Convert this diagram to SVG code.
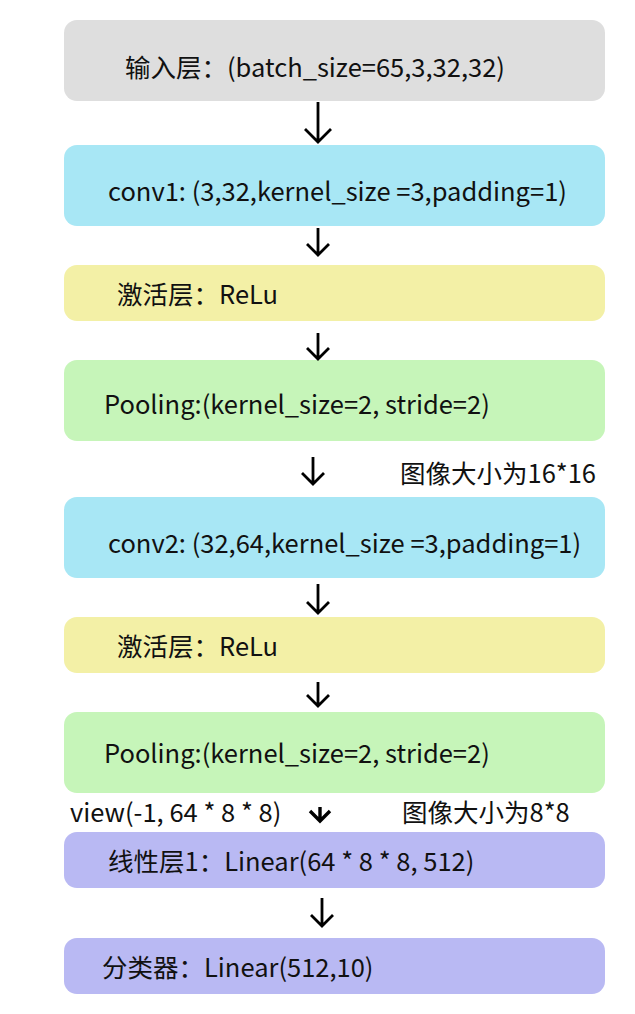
<svg xmlns="http://www.w3.org/2000/svg" width="635" height="1014" viewBox="0 0 635 1014">
<style>
.bx{stroke:none}
.t{font-family:"Noto Sans CJK SC","Noto Sans",sans-serif;font-size:25.5px;fill:#111}
.a{fill:none;stroke:#000;stroke-width:2.8;stroke-linecap:butt}
</style>
<rect width="635" height="1014" fill="#fff"/>
<g id="n1"><rect class="bx" x="64" y="20" width="541" height="81" rx="13" fill="#dedede"/><text class="t" x="125" y="77">输入层：(batch_size=65,3,32,32)</text></g>
<g id="n2"><rect class="bx" x="64" y="145" width="541" height="81" rx="13" fill="#a8e7f5"/><text class="t" x="108" y="201">conv1: (3,32,kernel_size =3,padding=1)</text></g>
<g id="n3"><rect class="bx" x="64" y="265" width="541" height="56" rx="13" fill="#f3f0a6"/><text class="t" x="117" y="304">激活层：ReLu</text></g>
<g id="n4"><rect class="bx" x="64" y="360" width="541" height="81" rx="13" fill="#c6f5b9"/><text class="t" x="104" y="414">Pooling:(kernel_size=2, stride=2)</text></g>
<g id="l1"><text class="t" x="400" y="483">图像大小为16*16</text></g>
<g id="n5"><rect class="bx" x="64" y="497" width="541" height="81" rx="13" fill="#a8e7f5"/><text class="t" x="108" y="553">conv2: (32,64,kernel_size =3,padding=1)</text></g>
<g id="n6"><rect class="bx" x="64" y="617" width="541" height="56" rx="13" fill="#f3f0a6"/><text class="t" x="117" y="656">激活层：ReLu</text></g>
<g id="n7"><rect class="bx" x="64" y="712" width="541" height="81" rx="13" fill="#c6f5b9"/><text class="t" x="104" y="763">Pooling:(kernel_size=2, stride=2)</text></g>
<g id="l2"><text class="t" x="70" y="822">view(-1, 64 * 8 * 8)</text><text class="t" x="402" y="822">图像大小为8*8</text></g>
<g id="n8"><rect class="bx" x="64" y="832" width="541" height="56" rx="13" fill="#b9b9f3"/><text class="t" x="108" y="871">线性层1：Linear(64 * 8 * 8, 512)</text></g>
<g id="n9"><rect class="bx" x="64" y="938" width="541" height="56" rx="13" fill="#b9b9f3"/><text class="t" x="102" y="977">分类器：Linear(512,10)</text></g>
<g id="connectors">
<path class="a" d="M318 102V141M305 129L318 142L331 129"/>
<path class="a" d="M318 228V254M307 244L318 255L329 244"/>
<path class="a" d="M318 333V358M307 348L318 359L329 348"/>
<path class="a" d="M313 457V483M302 473L313 484L324 473"/>
<path class="a" d="M318 584V612M307 602L318 613L329 602"/>
<path class="a" d="M318 682V705M307 695L318 706L329 695"/>
<path class="a" style="stroke-width:3.4" d="M320 807V820M310 811L320 821L330 811"/>
<path class="a" d="M322 898V925M311 915L322 926L333 915"/>
</g>
</svg>
